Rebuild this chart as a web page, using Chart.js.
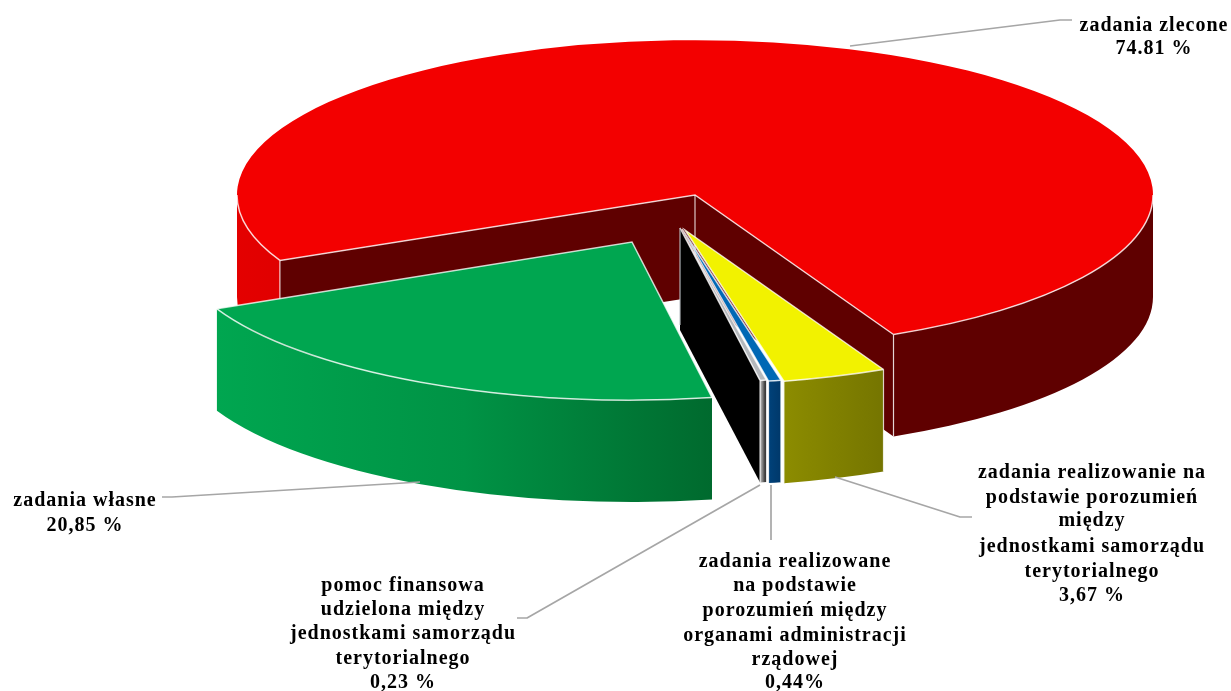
<!DOCTYPE html>
<html><head><meta charset="utf-8">
<script src="https://cdn.jsdelivr.net/npm/chart.js@4"></script>
<style>html,body{margin:0;padding:0;background:#fff;overflow:hidden}canvas{display:block}</style>
</head><body><canvas id="c" width="1231" height="691"></canvas>
<script>
// Data
const categories = ['zadania zlecone','zadania realizowanie na podstawie porozumień między jednostkami samorządu terytorialnego','zadania realizowane na podstawie porozumień między organami administracji rządowej','pomoc finansowa udzielona między jednostkami samorządu terytorialnego','zadania własne'];
const values = [74.81, 3.67, 0.44, 0.23, 20.85];
// Styles
const topColors = ['#f30000','#f2f200','#0068b5','#b4b8bc','#00a650'];
const wallStops = [
  [[0,'#e40000'],[0.094,'#dc0000'],[0.095,'#5f0000'],[1,'#5f0000']],
  [[0,'#8c8c00'],[1,'#757500']],
  [[0,'#00427a'],[1,'#00386a']],
  [[0,'#c8c8c8'],[1,'#111111']],
  [[0,'#00a650'],[0.5,'#009345'],[1,'#006a2e']]
];
const faceColors = ['#5f0000',null,null,'#000000',null];
// Layout of the exploded 3D view
const view = {cx:695, cy:195, depth:102};
const squash = [0.338,0.338,0.338,0.338,0.345];
const explode = [[0,0],[-10,35],[-13,34],[-15,33],[-63,47]];
const paintOrder = [0,4,3,2,1];
const edge = 'rgba(255,255,255,0.78)';
const labels = [
  {x:1154, y:[31,54], lines:['zadania zlecone','74.81 %']},
  {x:85, y:[506,531], lines:['zadania własne','20,85 %']},
  {x:403, y:[591,615,639,664,688], lines:['pomoc finansowa','udzielona między','jednostkami samorządu','terytorialnego','0,23 %']},
  {x:795, y:[567,591,616,641,665,688], lines:['zadania realizowane','na podstawie','porozumień między','organami administracji','rządowej','0,44%']},
  {x:1092, y:[478,503,526,552,577,601], lines:['zadania realizowanie na','podstawie porozumień','między','jednostkami samorządu','terytorialnego','3,67 %']}
];
const leaders = [
  [[850,46],[1060,20],[1072,20]],
  [[162,497],[172,497],[420,482]],
  [[835,477],[960,517],[972,517]],
  [[771,485],[771,540]],
  [[760,485],[527,618],[517,618]]
];

const pie3d = {
  id:'pie3d',
  beforeDatasetsDraw(chart){
    const ctx = chart.ctx;
    const arcs = chart.getDatasetMeta(0).data;
    const D = view.depth;
    for (const i of paintOrder){
      const a = arcs[i];
      const S = squash[i];
      const ox = view.cx + explode[i][0], oy = view.cy + explode[i][1];
      const R = a.outerRadius;
      const pt = t => [ox + R*Math.cos(t), oy + R*S*Math.sin(t)];
      const s = a.startAngle, e = a.endAngle;
      // cut faces
      if (faceColors[i]){
        ctx.fillStyle = faceColors[i];
        const faces = i === 0 ? [s,e] : [e];
        for (const t of faces){
          const p = pt(t);
          ctx.beginPath();
          ctx.moveTo(ox,oy); ctx.lineTo(p[0],p[1]); ctx.lineTo(p[0],p[1]+D); ctx.lineTo(ox,oy+D);
          ctx.closePath(); ctx.fill();
        }
      }
      // outer rim: only the front half
      const ranges = [];
      for (let k=-1;k<=2;k++){
        const lo = Math.max(s, k*2*Math.PI), hi = Math.min(e, k*2*Math.PI+Math.PI);
        if (hi>lo) ranges.push([lo,hi]);
      }
      let minX=1e9,maxX=-1e9;
      for (const r of ranges){
        for (let t=r[0];t<=r[1];t+=0.01){const x=pt(t)[0];minX=Math.min(minX,x);maxX=Math.max(maxX,x);}
        const x1=pt(r[0])[0],x2=pt(r[1])[0];minX=Math.min(minX,x1,x2);maxX=Math.max(maxX,x1,x2);
      }
      const g = ctx.createLinearGradient(minX,0,maxX,0);
      wallStops[i].forEach(st=>g.addColorStop(st[0],st[1]));
      ctx.fillStyle = g;
      for (const r of ranges){
        ctx.beginPath();
        ctx.ellipse(ox,oy,R,R*S,0,r[0],r[1],false);
        ctx.ellipse(ox,oy+D,R,R*S,0,r[1],r[0],true);
        ctx.closePath(); ctx.fill();
      }
      // top: the library's own arc element, squashed into place
      ctx.save();
      ctx.translate(ox,oy); ctx.scale(1,S); ctx.translate(-a.x,-a.y);
      a.draw(ctx);
      ctx.restore();
      // light edges
      ctx.strokeStyle = edge; ctx.lineWidth = 1.5;
      const ps = pt(s), pe = pt(e);
      ctx.beginPath();
      ctx.moveTo(ps[0],ps[1]); ctx.lineTo(ox,oy); ctx.lineTo(pe[0],pe[1]);
      ctx.stroke();
      for (const r of ranges){
        ctx.beginPath(); ctx.ellipse(ox,oy,R,R*S,0,r[0],r[1],false); ctx.stroke();
      }
      // vertical edges at the wedge corners
      ctx.lineWidth = 1.2;
      const vs = i===0 ? [ps,pe,[ox,oy]] : (i===4 ? [] : [ps,pe]);
      for (const p of vs){
        ctx.beginPath(); ctx.moveTo(p[0],p[1]); ctx.lineTo(p[0],p[1]+D); ctx.stroke();
      }
      if (i===3){ ctx.strokeStyle='rgba(190,195,200,0.9)'; ctx.beginPath(); ctx.moveTo(ox,oy); ctx.lineTo(ox,oy+D*0.95); ctx.stroke(); }
    }
    return false;
  },
  afterDraw(chart){
    const ctx = chart.ctx;
    ctx.save();
    ctx.strokeStyle = '#a6a6a6'; ctx.lineWidth = 1.7; ctx.lineJoin='round';
    for (const l of leaders){
      ctx.beginPath();
      l.forEach((p,n)=> n?ctx.lineTo(p[0],p[1]):ctx.moveTo(p[0],p[1]));
      ctx.stroke();
    }
    ctx.fillStyle = '#000';
    ctx.font = 'bold 20px "Liberation Serif"';
    ctx.textAlign = 'center';
    ctx.textBaseline = 'alphabetic';
    ctx.letterSpacing = '1px';
    for (const lb of labels) lb.lines.forEach((t,n)=>ctx.fillText(t,lb.x,lb.y[n]));
    ctx.restore();
  }
};

new Chart(document.getElementById('c'),{
  type:'pie',
  data:{labels:categories,datasets:[{data:values,backgroundColor:topColors,borderWidth:0}]},
  options:{
    responsive:false,animation:false,radius:458,rotation:245,
    layout:{padding:{left:159}},
    plugins:{legend:{display:false},tooltip:{enabled:false}}
  },
  plugins:[pie3d]
});
</script></body></html>
